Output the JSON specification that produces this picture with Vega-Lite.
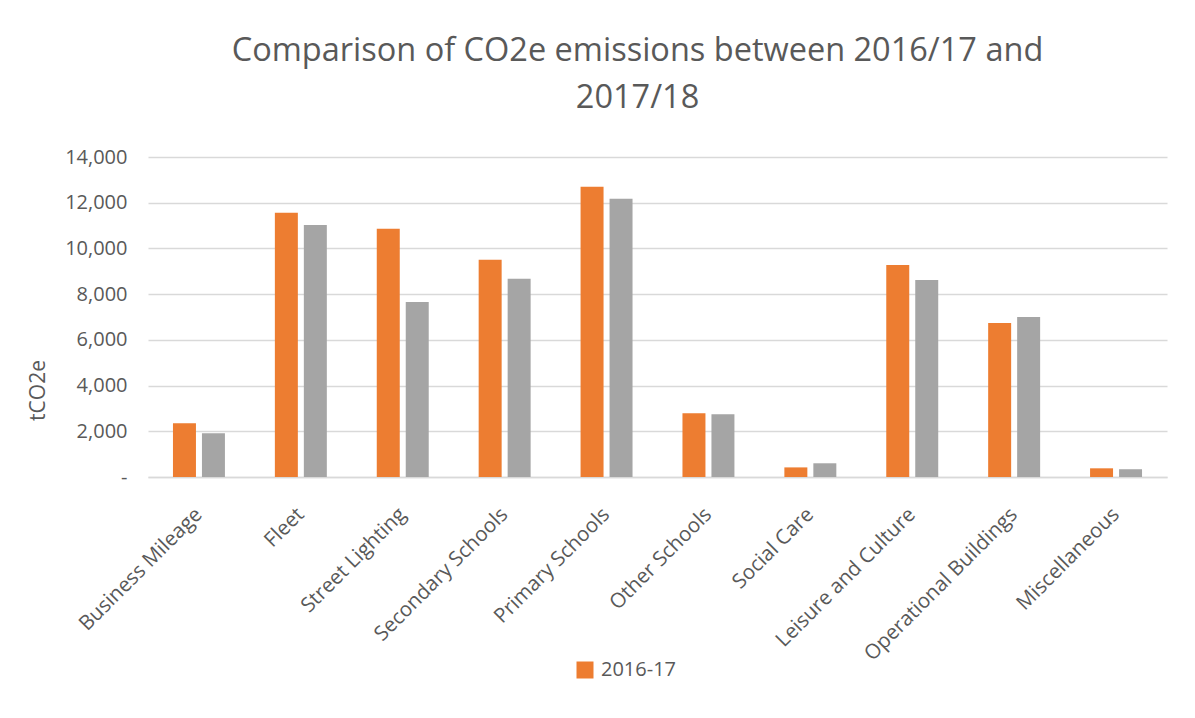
{
  "$schema": "https://vega.github.io/schema/vega-lite/v6.json",
  "width": 1019,
  "height": 320,
  "autosize": {"type": "none"},
  "padding": {"left": 148, "top": 157, "right": 28, "bottom": 241},
  "background": "white",
  "title": {
    "text": ["Comparison of CO2e emissions between 2016/17 and", "2017/18"],
    "font": "Open Sans",
    "fontSize": 32.5,
    "fontWeight": "normal",
    "color": "#595959",
    "anchor": "middle",
    "dx": -20,
    "offset": 33,
    "lineHeight": 47
  },
  "data": {
    "values": [
      {"category": "Business Mileage", "year": "2016-17", "value": 2350},
      {"category": "Business Mileage", "year": "2017-18", "value": 1910},
      {"category": "Fleet", "year": "2016-17", "value": 11560},
      {"category": "Fleet", "year": "2017-18", "value": 11030},
      {"category": "Street Lighting", "year": "2016-17", "value": 10860},
      {"category": "Street Lighting", "year": "2017-18", "value": 7660},
      {"category": "Secondary Schools", "year": "2016-17", "value": 9500},
      {"category": "Secondary Schools", "year": "2017-18", "value": 8670},
      {"category": "Primary Schools", "year": "2016-17", "value": 12700},
      {"category": "Primary Schools", "year": "2017-18", "value": 12170},
      {"category": "Other Schools", "year": "2016-17", "value": 2790},
      {"category": "Other Schools", "year": "2017-18", "value": 2750},
      {"category": "Social Care", "year": "2016-17", "value": 420},
      {"category": "Social Care", "year": "2017-18", "value": 600},
      {"category": "Leisure and Culture", "year": "2016-17", "value": 9280},
      {"category": "Leisure and Culture", "year": "2017-18", "value": 8620},
      {"category": "Operational Buildings", "year": "2016-17", "value": 6740},
      {"category": "Operational Buildings", "year": "2017-18", "value": 7000},
      {"category": "Miscellaneous", "year": "2016-17", "value": 380},
      {"category": "Miscellaneous", "year": "2017-18", "value": 340}
    ]
  },
  "mark": {"type": "bar"},
  "encoding": {
    "x": {
      "field": "category",
      "type": "nominal",
      "sort": null,
      "scale": {"paddingInner": 0.49, "paddingOuter": 0.245},
      "axis": {
        "title": null,
        "labelAngle": -45,
        "labelAlign": "right",
        "labelBaseline": "middle",
        "labelPadding": 34,
        "labelFont": "Open Sans",
        "labelFontSize": 20.5,
        "labelColor": "#595959",
        "labelLimit": 400,
        "labelOverlap": false,
        "ticks": false,
        "domainColor": "#D9D9D9",
        "domainWidth": 1.5,
        "grid": false
      }
    },
    "xOffset": {
      "field": "year",
      "type": "nominal",
      "scale": {"paddingInner": 0.207, "paddingOuter": 0}
    },
    "y": {
      "field": "value",
      "type": "quantitative",
      "scale": {"domain": [0, 14000], "nice": false},
      "axis": {
        "title": "tCO2e",
        "titleFont": "Open Sans",
        "titleFontSize": 21,
        "titleFontWeight": "normal",
        "titleColor": "#595959",
        "titleX": -110,
        "titleY": 233,
        "titleAngle": -90,
        "titleAlign": "center",
        "titleBaseline": "middle",
        "values": [0, 2000, 4000, 6000, 8000, 10000, 12000, 14000],
        "labelExpr": "datum.value == 0 ? '-' : format(datum.value, ',')",
        "labelFont": "Open Sans",
        "labelFontSize": 20,
        "labelColor": "#595959",
        "labelPadding": 21,
        "ticks": false,
        "domain": false,
        "gridColor": "#D9D9D9",
        "gridWidth": 1.5
      }
    },
    "color": {
      "field": "year",
      "type": "nominal",
      "scale": {"domain": ["2016-17", "2017-18"], "range": ["#ED7D31", "#A5A5A5"]},
      "legend": {
        "title": null,
        "values": ["2016-17"],
        "orient": "none",
        "legendX": 427,
        "legendY": 503,
        "symbolType": "square",
        "symbolSize": 289,
        "symbolStrokeWidth": 0,
        "labelFont": "Open Sans",
        "labelFontSize": 20,
        "labelColor": "#595959",
        "labelOffset": 6
      }
    }
  },
  "config": {
    "view": {"stroke": null},
    "bar": {"stroke": null}
  }
}
